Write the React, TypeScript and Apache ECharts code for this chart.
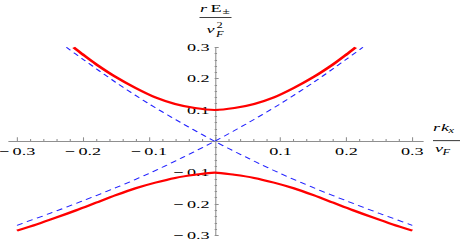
import React, { useEffect, useRef } from 'react';
import * as echarts from 'echarts';

// Upper red branch  (k, E)
const kUpper = [-0.214, -0.2, -0.18, -0.15, -0.12, -0.09, -0.06, -0.03, 0, 0.03, 0.06, 0.09, 0.12, 0.15, 0.18, 0.2, 0.214];
const eUpper = [0.3, 0.277, 0.246, 0.205, 0.17, 0.14, 0.119, 0.106, 0.1, 0.106, 0.119, 0.14, 0.17, 0.205, 0.246, 0.277, 0.3];
// Lower red branch
const kLower = [-0.3, -0.27, -0.24, -0.21, -0.18, -0.15, -0.12, -0.09, -0.06, -0.03, 0, 0.03, 0.06, 0.09, 0.12, 0.15, 0.18, 0.21, 0.24, 0.27, 0.3];
const eLower = [-0.285, -0.265, -0.243, -0.22, -0.196, -0.172, -0.15, -0.132, -0.117, -0.107, -0.1, -0.107, -0.117, -0.132, -0.15, -0.172, -0.196, -0.22, -0.243, -0.265, -0.285];
// Dashed blue, rising
const kDashRise = [-0.3, -0.25, -0.2, -0.15, -0.1, -0.05, 0, 0.05, 0.1, 0.15, 0.2, 0.225];
const eDashRise = [-0.268, -0.23, -0.19, -0.148, -0.103, -0.053, 0, 0.058, 0.12, 0.188, 0.262, 0.3];
// Dashed blue, falling
const kDashFall = [-0.225, -0.2, -0.15, -0.1, -0.05, 0, 0.05, 0.1, 0.15, 0.2, 0.25, 0.3];
const eDashFall = [0.3, 0.262, 0.188, 0.12, 0.058, 0, -0.053, -0.103, -0.148, -0.19, -0.23, -0.268];

const W = 463;
const H = 245;
const CW = 280;
const S = W / CW;
const fx = (x: number) => x / S;

const zip = (ks: number[], es: number[]) => ks.map((k, i) => [k, es[i]]);

export default function App() {
  const ref = useRef<HTMLDivElement>(null);
  useEffect(() => {
    const chart = echarts.init(ref.current!, null, { renderer: 'svg' });
    const X0 = 17, X1 = 412.3, YT = 47.3, YB = 235.3;
    const pxPerUnit = (X1 - X0) / 0.6;
    const XZ = X0 + 0.3 * pxPerUnit; // x of k = 0
    const YZ = (YT + YB) / 2; // y of E = 0
    const axisColor = '#8f8f8f';
    const serif = "'Liberation Serif', 'Times New Roman', serif";
    const fmt = (v: number) => {
      if (Math.abs(v) < 1e-9) return '';
      const s = Math.abs(v).toFixed(1);
      return v < 0 ? '\u2212\u2009' + s : s;
    };
    const txt = (text: string, x: number, y: number, size: number, italic: boolean) => ({
      type: 'text',
      x: fx(x),
      y,
      style: {
        text,
        fill: '#000',
        fontFamily: serif,
        fontSize: size,
        fontStyle: italic ? 'italic' : 'normal',
        textAlign: 'left',
        align: 'left',
        textVerticalAlign: 'middle',
        verticalAlign: 'middle',
      },
    });
    const hline = (x1: number, x2: number, y: number) => ({
      type: 'line',
      shape: { x1: fx(x1), y1: y, x2: fx(x2), y2: y },
      style: { stroke: '#000', lineWidth: 0.8 },
    });
    const redStyle = { color: '#ff0000', width: 2.1 };
    const blueStyle = { color: '#2020ff', width: 0.9, type: [4, 3] };
    const g = (left: number, width: number, top: number, height: number) => ({
      left: fx(left), width: fx(width), top, height, containLabel: false, outerBoundsMode: 'none',
    });
    const hidden = (gridIndex: number, min: number, max: number) => ({
      type: 'value', gridIndex, min, max, show: false,
      axisLine: { show: false, onZero: false }, splitLine: { show: false },
    });
    const option: any = {
      animation: false,
      grid: [
        g(X0, X1 - X0, YT, YB - YT), // data
        g(X0, X1 - X0, YT, YZ - YT), // x axis ticks & labels (bottom edge on zero)
        g(9, 423 - 9, YT, YZ - YT), // x axis line (extended)
        g(XZ, X1 - XZ, YT, YB - YT), // y axis (left edge on zero)
      ],
      xAxis: [
        hidden(0, -0.3, 0.3),
        {
          type: 'value', gridIndex: 1, position: 'bottom', min: -0.3, max: 0.3, interval: 0.1,
          axisLine: { show: false, onZero: false },
          axisTick: { show: true, inside: true, length: 4, lineStyle: { color: axisColor, width: 0.65 } },
          minorTick: { show: true, splitNumber: 5, length: 2.3, lineStyle: { color: axisColor, width: 0.65 } },
          axisLabel: { margin: 5, formatter: fmt, color: '#000', fontFamily: serif, fontSize: 11 },
          splitLine: { show: false },
        },
        {
          type: 'value', gridIndex: 2, position: 'bottom',
          min: -0.3 - (X0 - 9) / pxPerUnit, max: 0.3 + (423 - X1) / pxPerUnit,
          axisLine: { show: true, onZero: false, lineStyle: { color: axisColor, width: 1 } },
          axisTick: { show: false }, axisLabel: { show: false }, splitLine: { show: false },
        },
        hidden(3, 0, 0.3),
      ],
      yAxis: [
        hidden(0, -0.3, 0.3),
        hidden(1, 0, 0.3),
        hidden(2, 0, 0.3),
        {
          type: 'value', gridIndex: 3, position: 'left', min: -0.3, max: 0.3, interval: 0.1,
          axisLine: { show: true, onZero: false, lineStyle: { color: axisColor, width: 0.65 } },
          axisTick: { show: true, inside: true, length: fx(4), lineStyle: { color: axisColor, width: 1 } },
          minorTick: { show: true, splitNumber: 5, length: fx(2.4), lineStyle: { color: axisColor, width: 1 } },
          axisLabel: { margin: fx(5), formatter: fmt, color: '#000', fontFamily: serif, fontSize: 11 },
          splitLine: { show: false },
        },
      ],
      series: [
        { type: 'line', xAxisIndex: 0, yAxisIndex: 0, data: zip(kDashRise, eDashRise), smooth: 0.3, showSymbol: false, lineStyle: blueStyle, z: 3 },
        { type: 'line', xAxisIndex: 0, yAxisIndex: 0, data: zip(kDashFall, eDashFall), smooth: 0.3, showSymbol: false, lineStyle: blueStyle, z: 3 },
        { type: 'line', xAxisIndex: 0, yAxisIndex: 0, data: zip(kUpper, eUpper), smooth: 0.3, showSymbol: false, lineStyle: redStyle, z: 4 },
        { type: 'line', xAxisIndex: 0, yAxisIndex: 0, data: zip(kLower, eLower), smooth: 0.3, showSymbol: false, lineStyle: redStyle, z: 4 },
      ],
      graphic: {
        elements: [
          txt('r', 200, 8.1, 11, true),
          txt('E', 210.5, 8.1, 11, false),
          txt('\u00b1', 222.5, 10.8, 8, false),
          hline(199.5, 231.5, 17.3),
          txt('v', 206.5, 29.4, 11, true),
          txt('2', 216.5, 25.5, 7.5, false),
          txt('F', 216, 34.2, 7.5, true),
          txt('r', 433, 127, 11, true),
          txt('k', 441, 127, 11, true),
          txt('x', 448.5, 130.5, 7.5, true),
          hline(433, 460, 140.7),
          txt('v', 435, 148, 11, true),
          txt('F', 442.5, 152.5, 7.5, true),
        ],
      },
    };
    chart.setOption(option);
    return () => chart.dispose();
  }, []);
  return (
    <div style={{ position: 'fixed', left: 0, top: 0, width: W, height: H, overflow: 'hidden', background: '#fff' }}>
      <div ref={ref} style={{ width: CW, height: H, transform: `scaleX(${S})`, transformOrigin: '0 0' }} />
    </div>
  );
}
